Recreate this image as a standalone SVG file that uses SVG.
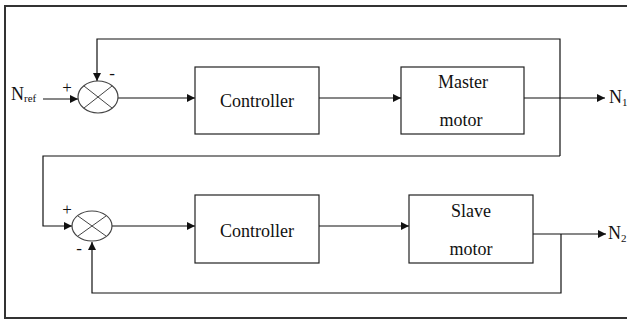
<svg xmlns="http://www.w3.org/2000/svg" width="627" height="320" viewBox="0 0 627 320">
  <defs>
    <marker id="arrow" viewBox="0 0 10 10" refX="10" refY="5" markerWidth="9" markerHeight="8" markerUnits="userSpaceOnUse" orient="auto">
      <path d="M0,0 L10,5 L0,10 Z" fill="#111"/>
    </marker>
    <style>
      .frame { fill: none; stroke: #333; stroke-width: 2; }
      .box { fill: #fff; stroke: #222; stroke-width: 1.2; }
      .sum { fill: #fff; stroke: #444; stroke-width: 1.2; }
      .cross { stroke: #444; stroke-width: 1; }
      .wire { fill: none; stroke: #111; stroke-width: 1.2; }
      .lbl { font-family: "Liberation Serif", "DejaVu Serif", serif; font-size: 18px; fill: #111; }
      .sign { font-family: "Liberation Serif", "DejaVu Serif", serif; font-size: 17px; fill: #111; }
      .sub { font-size: 11px; }
    </style>
  </defs>
  <rect width="627" height="320" fill="#fff"/>
  <!-- outer frame (right side runs past the canvas) -->
  <path class="frame" d="M640,6 L5,6 L5,318 L640,318"/>

  <!-- connectors -->
  <g id="connectors">
    <!-- master loop -->
    <line class="wire" x1="43" y1="99" x2="78" y2="99" marker-end="url(#arrow)"/>
    <line class="wire" x1="118" y1="98" x2="195" y2="98" marker-end="url(#arrow)"/>
    <line class="wire" x1="319" y1="98" x2="401" y2="98" marker-end="url(#arrow)"/>
    <line class="wire" x1="524" y1="98" x2="605" y2="98" marker-end="url(#arrow)"/>
    <polyline class="wire" points="560,156 560,39 97,39 97,81" marker-end="url(#arrow)"/>
    <!-- master speed as slave reference -->
    <polyline class="wire" points="560,156 43,156 43,226 72,226" marker-end="url(#arrow)"/>
    <!-- slave loop -->
    <line class="wire" x1="112" y1="226" x2="195" y2="226" marker-end="url(#arrow)"/>
    <line class="wire" x1="319" y1="226" x2="409" y2="226" marker-end="url(#arrow)"/>
    <line class="wire" x1="533" y1="234" x2="606" y2="234" marker-end="url(#arrow)"/>
    <polyline class="wire" points="561,234 561,293 92,293 92,242" marker-end="url(#arrow)"/>
  </g>

  <!-- summing junction 1 -->
  <g id="sum1">
    <ellipse class="sum" cx="98" cy="97" rx="20" ry="16"/>
    <line class="cross" x1="84" y1="86" x2="112" y2="108"/>
    <line class="cross" x1="84" y1="108" x2="112" y2="86"/>
    <text class="sign" x="67" y="93" text-anchor="middle">+</text>
    <text class="sign" x="112" y="79" text-anchor="middle">-</text>
  </g>

  <g id="controller1">
    <rect class="box" x="195" y="67" width="124" height="67"/>
    <text class="lbl" x="257" y="107" text-anchor="middle">Controller</text>
  </g>

  <g id="master">
    <rect class="box" x="401" y="67" width="123" height="67"/>
    <text class="lbl" x="463" y="88" text-anchor="middle">Master</text>
    <text class="lbl" x="461" y="126" text-anchor="middle">motor</text>
  </g>

  <!-- summing junction 2 -->
  <g id="sum2">
    <ellipse class="sum" cx="92" cy="226" rx="20" ry="15"/>
    <line class="cross" x1="78" y1="216" x2="106" y2="236"/>
    <line class="cross" x1="78" y1="236" x2="106" y2="216"/>
    <text class="sign" x="67" y="215" text-anchor="middle">+</text>
    <text class="sign" x="79" y="254" text-anchor="middle">-</text>
  </g>

  <g id="controller2">
    <rect class="box" x="195" y="195" width="124" height="68"/>
    <text class="lbl" x="257" y="237" text-anchor="middle">Controller</text>
  </g>

  <g id="slave">
    <rect class="box" x="409" y="195" width="124" height="68"/>
    <text class="lbl" x="471" y="217" text-anchor="middle">Slave</text>
    <text class="lbl" x="471" y="255" text-anchor="middle">motor</text>
  </g>

  <!-- signal labels -->
  <g id="labels">
    <text class="lbl" x="11" y="100">N<tspan class="sub" dy="2">ref</tspan></text>
    <text class="lbl" x="609" y="103">N<tspan class="sub" dy="3">1</tspan></text>
    <text class="lbl" x="608" y="239">N<tspan class="sub" dy="3">2</tspan></text>
  </g>
</svg>
